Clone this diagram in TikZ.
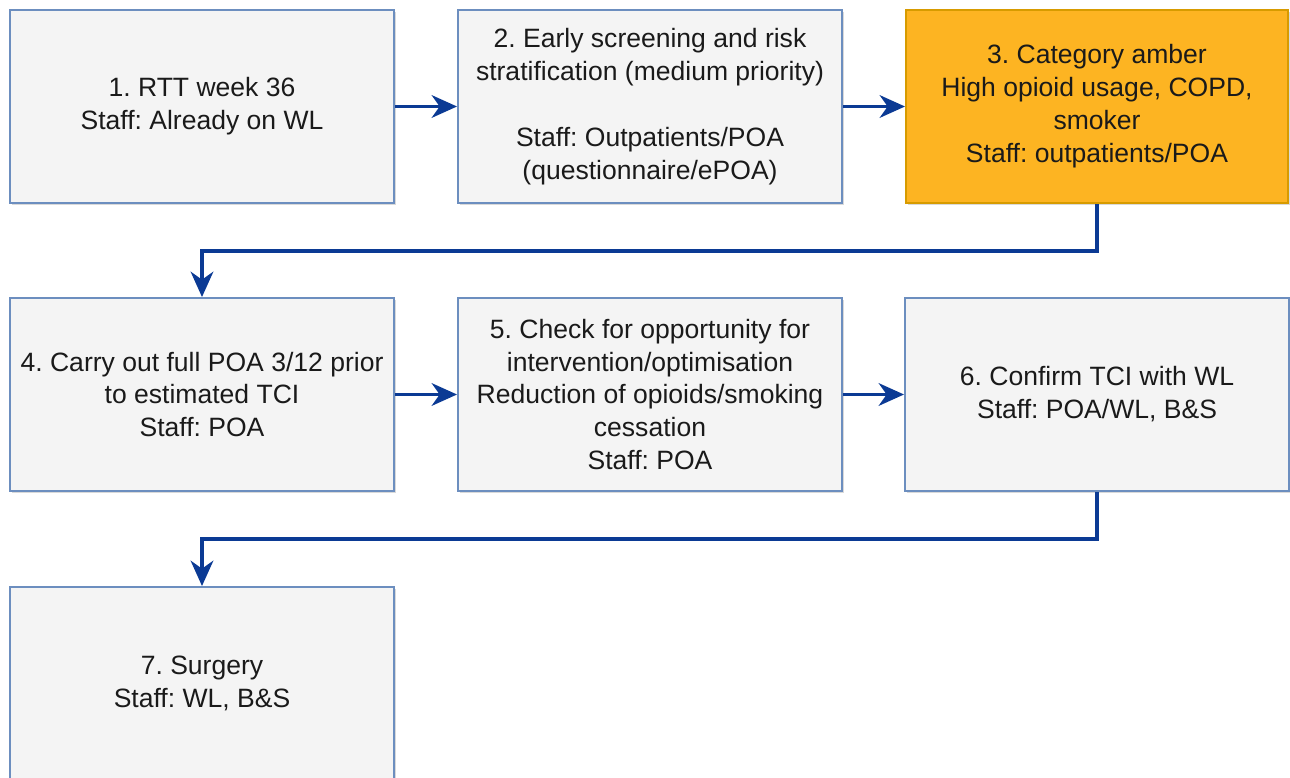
\documentclass[tikz,border=0pt]{standalone}
\usepackage{fontspec}
\setmainfont{Liberation Sans}
\usetikzlibrary{arrows.meta,shadows}
\definecolor{boxfill}{HTML}{F4F4F4}
\definecolor{boxline}{HTML}{6C8EBF}
\definecolor{amberfill}{HTML}{FDB422}
\definecolor{amberline}{HTML}{D79B00}
\definecolor{flow}{HTML}{0B3A94}
\definecolor{ink}{HTML}{1A1A1A}
\frenchspacing
\tikzset{
  stepbox/.style={draw=boxline, fill=boxfill, line width=1.5pt,
    minimum width=288pt, minimum height=144.75pt, inner sep=0pt,
    align=center, text=ink, font=\fontsize{19.9}{24.7}\selectfont,
    drop shadow={shadow xshift=1.2pt, shadow yshift=-1.8pt, opacity=0.25, fill=black!60}},
  amberbox/.style={stepbox, draw=amberline, fill=amberfill, minimum width=286.5pt},
  conn/.style={draw=flow, line width=2.4pt,
    -{Stealth[length=19pt, width=17pt, inset=6pt]}}
}
\begin{document}
\begin{tikzpicture}[x=0.75pt, y=-0.75pt]
  \useasboundingbox (0,0) rectangle (1290,778);

  % first row
  \node[stepbox] (b1) at (202,106.5) {1. RTT week 36\\Staff: Already on WL};
  \node[stepbox] (b2) at (650,106.5) {2. Early screening and risk\\stratification (medium priority)\\[24.7pt]Staff: Outpatients/POA\\(questionnaire/ePOA)};
  \node[amberbox] (b3) at (1097,106.5) {3. Category amber\\High opioid usage, COPD,\\smoker\\Staff: outpatients/POA};

  % second row
  \node[stepbox] (b4) at (202,394.5) {4. Carry out full POA 3/12 prior\\to estimated TCI\\Staff: POA};
  \node[stepbox] (b5) at (650,394.5) {5. Check for opportunity for\\intervention/optimisation\\Reduction of opioids/smoking\\cessation\\Staff: POA};
  \node[stepbox] (b6) at (1097,394.5) {6. Confirm TCI with WL\\Staff: POA/WL, B\&S};

  % third row
  \node[stepbox] (b7) at (202,683.5) {7. Surgery\\Staff: WL, B\&S};

  % connectors
  \coordinate (m1) at (650,251);
  \coordinate (m2) at (650,539);
  \draw[conn] (b1) -- (b2);
  \draw[conn] (b2) -- (b3);
  \draw[conn] (b3.south) |- (m1) -| (b4.north);
  \draw[conn] (b4) -- (b5);
  \draw[conn] (b5) -- (b6);
  \draw[conn] (b6.south) |- (m2) -| (b7.north);
\end{tikzpicture}
\end{document}
